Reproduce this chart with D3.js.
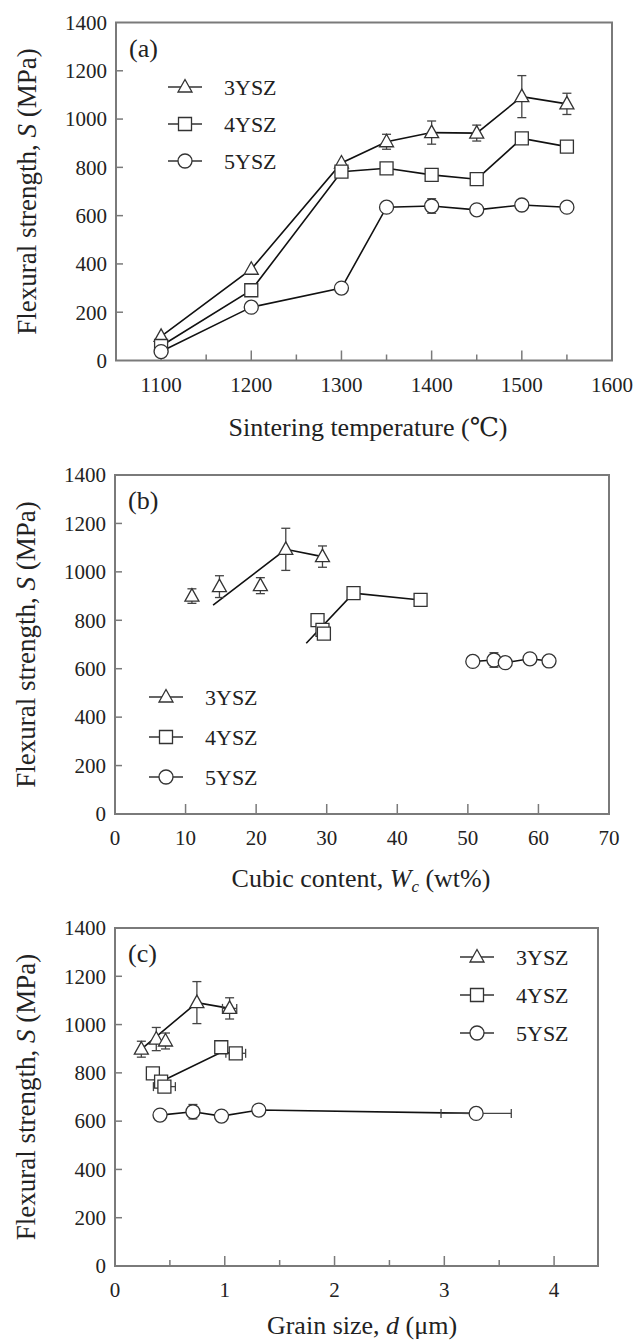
<!DOCTYPE html>
<html>
<head>
<meta charset="utf-8">
<script src="https://cdn.jsdelivr.net/npm/d3@7"></script>
<style>
  html, body { margin: 0; padding: 0; background: #fff; }
  svg { display: block; }
</style>
</head>
<body>
<svg id="chart" width="636" height="1343" font-family="'Liberation Serif', 'DejaVu Serif', serif"></svg>
<script>
// ---- data ----
const series = ["3YSZ", "4YSZ", "5YSZ"];
const yTicks = [0, 200, 400, 600, 800, 1000, 1200, 1400];

// (a) strength vs sintering temperature
const tempA = [1100, 1200, 1300, 1350, 1400, 1450, 1500, 1550];
const sA3 = [100, 378, 818, 906, 944, 942, 1093, 1063];
const eA3 = [0, 0, 0, 31, 48, 33, 87, 44];
const sA4 = [60, 291, 782, 796, 769, 751, 920, 886];
const eA4 = [0, 0, 0, 0, 20, 20, 0, 0];
const sA5 = [37, 221, 300, 635, 640, 624, 644, 635];
const eA5 = [0, 0, 0, 0, 30, 0, 0, 0];
const xTicksA = [1100, 1200, 1300, 1400, 1500, 1600];
const xMinorA = [1150, 1250, 1350, 1450, 1550];

// (b) strength vs cubic content
const wc3 = [10.9, 14.8, 20.6, 24.2, 29.4];
const sB3 = [900, 939, 943, 1093, 1063];
const eB3 = [30, 45, 33, 87, 44];
const fitWc3 = [13.9, 24.2, 29.4];
const fitSB3 = [863, 1093, 1063];
const wc4 = [28.7, 29.4, 29.6, 33.8, 43.3];
const sB4 = [801, 760, 745, 912, 884];
const eB4 = [0, 20, 20, 0, 0];
const fitWc4 = [27.1, 33.8, 43.3];
const fitSB4 = [705, 912, 884];
const wc5 = [50.7, 53.7, 55.3, 58.8, 61.5];
const sB5 = [630, 636, 625, 641, 632];
const eB5 = [0, 30, 0, 0, 0];
const xTicksB = [0, 10, 20, 30, 40, 50, 60, 70];

// (c) strength vs grain size
const d3v = [0.24, 0.376, 0.46, 0.746, 1.044];
const sC3 = [898, 940, 932, 1091, 1067];
const eC3 = [33, 48, 33, 87, 44];
const dxC3 = [0, 0, 0, 0, 0.065];
const fitD3 = [0.24, 0.746, 1.044];
const fitSC3 = [898, 1091, 1067];
const d4v = [0.345, 0.42, 0.45, 0.968, 1.1];
const sC4 = [798, 764, 743, 906, 881];
const eC4 = [0, 20, 20, 20, 0];
const dxC4 = [0, 0, 0.1, 0, 0.09];
const fitD4 = [0.42, 0.968, 1.1];
const fitSC4 = [764, 885, 881];
const d5v = [0.41, 0.71, 0.97, 1.31, 3.29];
const sC5 = [625, 639, 621, 646, 632];
const eC5 = [0, 30, 0, 0, 0];
const dxC5 = [0, 0, 0, 0.05, 0.32];
const xTicksC = [0, 1, 2, 3, 4];
const xMinorC = [0.5, 1.5, 2.5, 3.5];

const svg = d3.select("#chart");
const frameColor = "#7a7a7a";
const textColor = "#222";

function marker(g, type, x, y) {
  const m = g.append("path")
    .attr("fill", "#fff").attr("stroke", "#333").attr("stroke-width", 1.3)
    .attr("transform", `translate(${x},${y})`);
  if (type === "3YSZ") m.attr("d", "M0,-7.5L7,5L-7,5Z");
  else if (type === "4YSZ") m.attr("d", "M-6.5,-6.5H6.5V6.5H-6.5Z");
  else m.attr("d", d3.arc()({innerRadius: 0, outerRadius: 7, startAngle: 0, endAngle: 2 * Math.PI}));
}

function drawPanel(p) {
  const g = svg.append("g").attr("fill", textColor);
  const x = d3.scaleLinear().domain(p.xDomain).range([p.left, p.right]);
  const y = d3.scaleLinear().domain([0, 1400]).range([p.bottom, p.top]);

  // y ticks (inward) and labels
  g.selectAll(".yt").data(yTicks.slice(1, -1)).enter().append("line")
    .attr("x1", p.left).attr("x2", p.left + 7)
    .attr("y1", d => y(d)).attr("y2", d => y(d))
    .attr("stroke", frameColor).attr("stroke-width", 1.5);
  g.selectAll(".yl").data(yTicks).enter().append("text")
    .attr("x", p.left - 9).attr("y", d => y(d)).attr("dy", "0.35em")
    .attr("text-anchor", "end").attr("font-size", 21).text(d => d);

  // x ticks
  g.selectAll(".xt").data(p.xMajor).enter().append("line")
    .attr("x1", d => x(d)).attr("x2", d => x(d))
    .attr("y1", p.bottom).attr("y2", p.bottom - 10)
    .attr("stroke", frameColor).attr("stroke-width", 1.5);
  g.selectAll(".xm").data(p.xMinor).enter().append("line")
    .attr("x1", d => x(d)).attr("x2", d => x(d))
    .attr("y1", p.bottom).attr("y2", p.bottom - 6)
    .attr("stroke", frameColor).attr("stroke-width", 1.5);
  g.selectAll(".xl").data(p.xLabels).enter().append("text")
    .attr("x", d => x(d)).attr("y", p.bottom + 24).attr("dy", "0.35em")
    .attr("text-anchor", "middle").attr("font-size", 21).text(d => d);

  // frame
  g.append("rect").attr("x", p.left).attr("y", p.top)
    .attr("width", p.right - p.left).attr("height", p.bottom - p.top)
    .attr("fill", "none").attr("stroke", frameColor).attr("stroke-width", 2);

  // titles
  const yt = g.append("text").attr("font-size", 27).attr("text-anchor", "middle")
    .attr("transform", `translate(${p.left - 89},${(p.top + p.bottom) / 2}) rotate(-90)`)
    .attr("dy", "0.35em");
  yt.append("tspan").text("Flexural strength, ");
  yt.append("tspan").attr("font-style", "italic").text("S");
  yt.append("tspan").text(" (MPa)");
  const xt = g.append("text").attr("font-size", 26).attr("text-anchor", "middle")
    .attr("x", p.titleX).attr("y", p.bottom + p.titleDy).attr("dy", "0.35em");
  p.xTitle(xt);

  g.append("text").attr("x", p.left + 13).attr("y", p.top + 25).attr("dy", "0.35em")
    .attr("font-size", 26).text(p.tag);

  // data lines
  const line = d3.line().x(d => x(d[0])).y(d => y(d[1]));
  p.lines.forEach(l => {
    g.append("path").attr("d", line(d3.zip(l[0], l[1])))
      .attr("fill", "none").attr("stroke", "#111").attr("stroke-width", 1.6);
  });

  // error bars + markers
  p.sets.forEach(s => {
    s.x.forEach((xv, i) => {
      const cx = x(xv), cy = y(s.y[i]);
      const ey = s.ey ? s.ey[i] : 0, ex = s.ex ? s.ex[i] : 0;
      if (ey > 0) {
        const eb = g.append("g").attr("stroke", "#444").attr("stroke-width", 1.3);
        eb.append("line").attr("x1", cx).attr("x2", cx).attr("y1", y(s.y[i] + ey)).attr("y2", y(s.y[i] - ey));
        [s.y[i] + ey, s.y[i] - ey].forEach(v => eb.append("line")
          .attr("x1", cx - 4.5).attr("x2", cx + 4.5).attr("y1", y(v)).attr("y2", y(v)));
      }
      if (ex > 0) {
        const eb = g.append("g").attr("stroke", "#444").attr("stroke-width", 1.3);
        eb.append("line").attr("x1", x(xv - ex)).attr("x2", x(xv + ex)).attr("y1", cy).attr("y2", cy);
        [xv - ex, xv + ex].forEach(v => eb.append("line")
          .attr("x1", x(v)).attr("x2", x(v)).attr("y1", cy - 4.5).attr("y2", cy + 4.5));
      }
    });
    s.x.forEach((xv, i) => marker(g, s.name, x(xv), y(s.y[i])));
  });

  // legend
  series.forEach((name, i) => {
    const ly = p.legend.y + i * p.legend.dy;
    g.append("line").attr("x1", p.legend.x - 17).attr("x2", p.legend.x + 17)
      .attr("y1", ly).attr("y2", ly).attr("stroke", "#333").attr("stroke-width", 1.3);
    marker(g, name, p.legend.x, ly);
    g.append("text").attr("x", p.legend.x + 39).attr("y", ly).attr("dy", "0.35em")
      .attr("font-size", 22).text(name);
  });
}

drawPanel({
  tag: "(a)", left: 116, right: 612, top: 22.5, bottom: 360.5,
  xDomain: [1050, 1600], xMajor: xTicksA.slice(0, -1), xMinor: xMinorA, xLabels: xTicksA,
  titleX: 368, titleDy: 66, xTitle: t => t.text("Sintering temperature (\u2103)"),
  lines: [[tempA, sA3], [tempA, sA4], [tempA, sA5]],
  sets: [
    {name: "3YSZ", x: tempA, y: sA3, ey: eA3},
    {name: "4YSZ", x: tempA, y: sA4, ey: eA4},
    {name: "5YSZ", x: tempA, y: sA5, ey: eA5}
  ],
  legend: {x: 185, y: 87, dy: 37}
});

drawPanel({
  tag: "(b)", left: 115, right: 609, top: 475, bottom: 814,
  xDomain: [0, 70], xMajor: xTicksB.slice(1, -1), xMinor: [], xLabels: xTicksB,
  titleX: 361, titleDy: 64, xTitle: t => {
    t.append("tspan").text("Cubic content, ");
    t.append("tspan").attr("font-style", "italic").text("W");
    t.append("tspan").attr("font-style", "italic").attr("font-size", 17).attr("dy", 5).text("c");
    t.append("tspan").attr("dy", -5).text(" (wt%)");
  },
  lines: [[fitWc3, fitSB3], [fitWc4, fitSB4], [wc5, sB5]],
  sets: [
    {name: "3YSZ", x: wc3, y: sB3, ey: eB3},
    {name: "4YSZ", x: wc4, y: sB4, ey: eB4},
    {name: "5YSZ", x: wc5, y: sB5, ey: eB5}
  ],
  legend: {x: 166, y: 697, dy: 40}
});

drawPanel({
  tag: "(c)", left: 115, right: 598, top: 928, bottom: 1266,
  xDomain: [0, 4.4], xMajor: xTicksC.slice(1), xMinor: xMinorC, xLabels: xTicksC,
  titleX: 362, titleDy: 59, xTitle: t => {
    t.append("tspan").text("Grain size, ");
    t.append("tspan").attr("font-style", "italic").text("d");
    t.append("tspan").text(" (\u03bcm)");
  },
  lines: [[fitD3, fitSC3], [fitD4, fitSC4], [d5v, sC5]],
  sets: [
    {name: "3YSZ", x: d3v, y: sC3, ey: eC3, ex: dxC3},
    {name: "4YSZ", x: d4v, y: sC4, ey: eC4, ex: dxC4},
    {name: "5YSZ", x: d5v, y: sC5, ey: eC5, ex: dxC5}
  ],
  legend: {x: 477, y: 957, dy: 38}
});
</script>
</body>
</html>
